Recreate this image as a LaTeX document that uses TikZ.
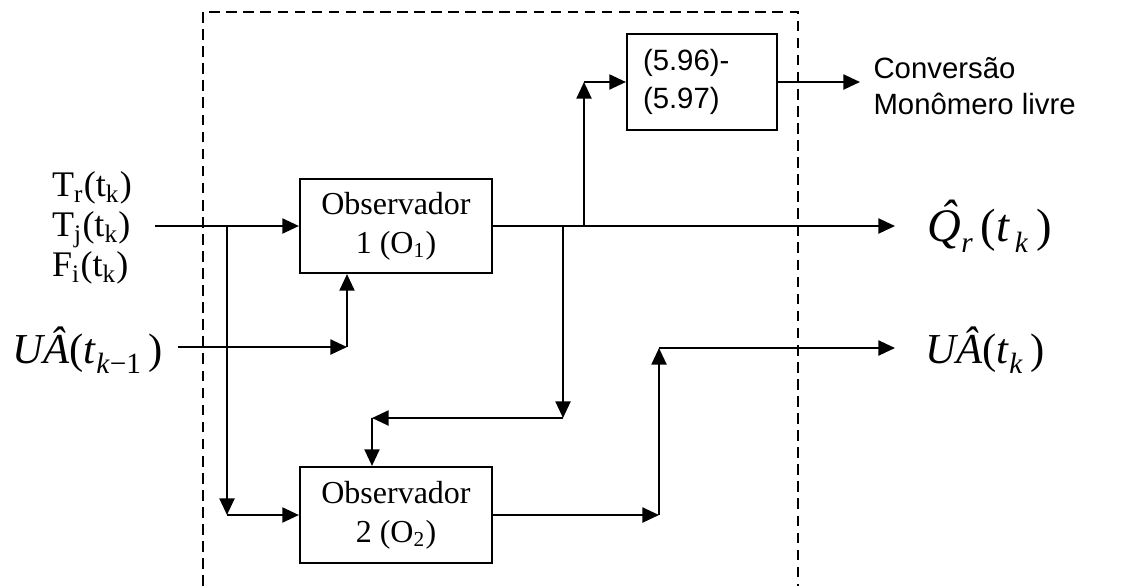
\documentclass[tikz,border=0pt]{standalone}
\usepackage{fontspec}
\setmainfont{Liberation Serif}
\newfontfamily\arial{Liberation Sans}
\usetikzlibrary{arrows.meta}
\tikzset{
  blk/.style={draw,line width=0.8pt,inner sep=0pt,align=center,font=\fontsize{12}{14.5}\selectfont},
  flow/.style={line width=0.8pt,-{Triangle[length=6.2pt,width=5.6pt]}},
  wire/.style={line width=0.8pt}
}
\newcommand{\sub}[1]{\raisebox{-0.5ex}{\fontsize{11}{13}\selectfont #1}}
\newcommand{\hatQ}{\rlap{\kern0.27em\raisebox{0.2em}{ˆ}}Q}
\begin{document}
\begin{tikzpicture}[x=0.375pt,y=-0.375pt]
  \useasboundingbox (0,0) rectangle (1148,586);
  % frame
  \draw[line width=0.7pt,dash pattern=on 4pt off 2.4pt] (203,586) -- (203,12) -- (798,12) -- (798,586);
  % blocks
  \node[blk,minimum width=72pt,minimum height=35.25pt] (o1) at (396,226) {Observador\\1 (O\textsubscript{1})};
  \node[blk,minimum width=72pt,minimum height=36pt] (o2) at (396,515) {Observador\\2 (O\textsubscript{2})};
  \node[blk,minimum height=36pt,text width=44.25pt,inner xsep=6pt,align=left,font=\arial\fontsize{11}{14}\selectfont] (eq) at (702,82) {(5.96)-\\(5.97)};
  % labels
  \node[align=left,font=\fontsize{13.5}{15}\selectfont] (ins) at (92,228) {T\textsubscript{r}(t\textsubscript{k})\\T\textsubscript{j}(t\textsubscript{k})\\F\textsubscript{i}(t\textsubscript{k})};
  \node[anchor=west,inner sep=0pt,font=\fontsize{16}{18}\selectfont] (uak1) at (12,350) {\textit{UÂ}(\textit{t}\sub{\textit{k}−1}\,)};
  \node[anchor=west,inner sep=0pt,font=\fontsize{17.5}{20}\selectfont] (qr) at (927,226) {\textit{\hatQ}\sub{\textit{r}}\,(\textit{t}\sub{\,\textit{k}}\,)};
  \node[anchor=west,inner sep=0pt,font=\fontsize{16}{18}\selectfont] (uak) at (925,350) {\textit{UÂ}(\textit{t}\sub{\textit{k}}\,)};
  \node[anchor=west,align=left,inner sep=0pt,font=\arial\fontsize{11}{13.5}\selectfont] (conv) at (873,86) {Conversão\\Monômero livre};
  % points
  \coordinate (in) at (155,226);
  \coordinate (s1) at (227,226);
  \coordinate (s1b) at (227,515);
  \coordinate (ua) at (178,347);
  \coordinate (uab) at (347,347);
  \coordinate (b1) at (584,226);
  \coordinate (b1t) at (584,82);
  \coordinate (b2) at (563,226);
  \coordinate (b2b) at (563,418);
  \coordinate (b2l) at (372,418);
  \coordinate (c1) at (659,515);
  \coordinate (c1t) at (659,348);
  \coordinate (e1) at (895,226);
  \coordinate (e2) at (895,348);
  \coordinate (e3) at (860,82);
  % connections
  \draw[flow] (in) -- (o1.west);
  \draw[flow] (s1) -- (s1b);
  \draw[flow] (s1b) -- (o2.west);
  \draw[flow] (ua) -- (uab);
  \draw[flow] (uab) -- (uab |- o1.south);
  \draw[flow] (o1.east) -- (e1);
  \draw[flow] (b1) -- (b1t);
  \draw[flow] (b1t) -- (eq.west);
  \draw[flow] (eq.east) -- (e3);
  \draw[flow] (b2) -- (b2b);
  \draw[flow] (b2b) -- (b2l);
  \draw[flow] (b2l) -- (b2l |- o2.north);
  \draw[flow] (o2.east) -- (c1);
  \draw[flow] (c1) -- (c1t);
  \draw[flow] (c1t) -- (e2);
\end{tikzpicture}
\end{document}
